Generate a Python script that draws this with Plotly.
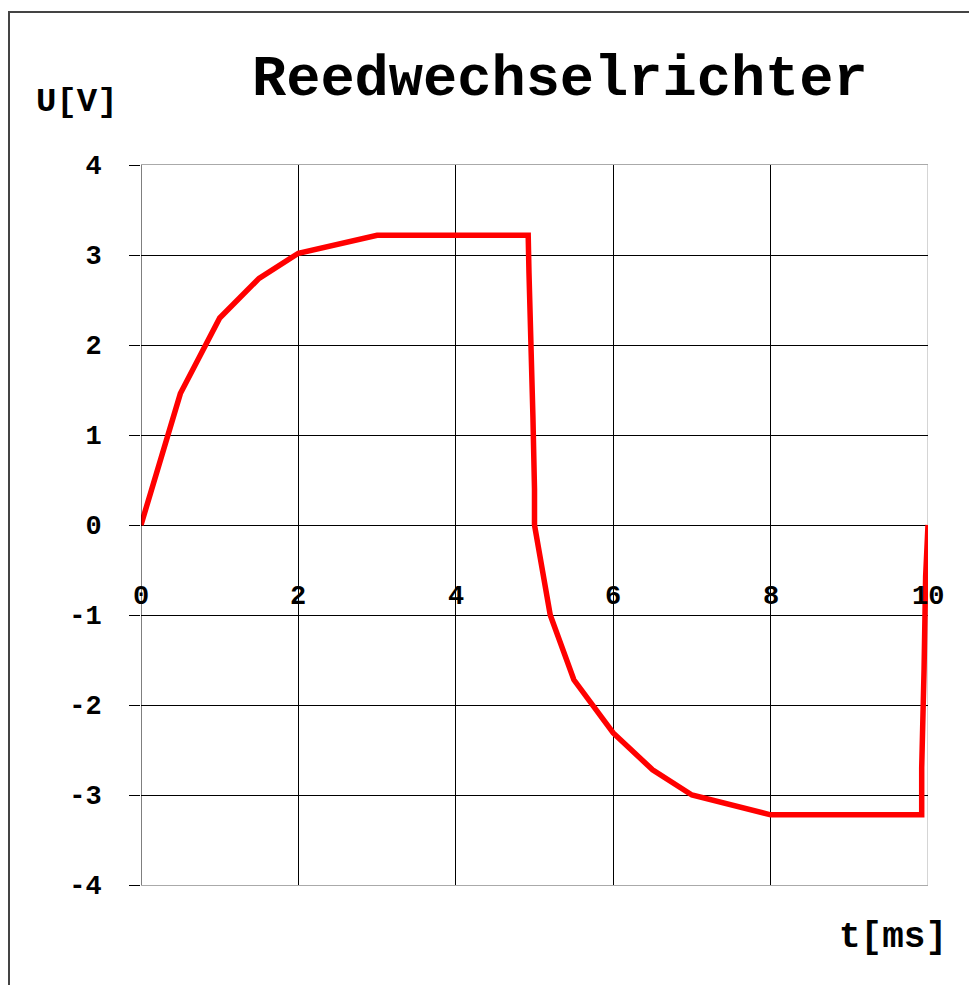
import plotly.graph_objects as go

# Data
t_ms = [0.0, 0.25, 0.5, 0.75, 1.0, 1.5, 2.0, 3.0, 4.92, 4.93, 4.96, 4.98, 5.0, 5.0,
        5.2, 5.5, 6.0, 6.5, 7.0, 8.0, 9.92, 9.92, 9.95, 9.97, 10.0]
u_v = [0.0, 0.74, 1.46, 1.88, 2.3, 2.74, 3.02, 3.22, 3.22, 2.8, 2.02, 1.2, 0.4, 0.0,
       -1.0, -1.72, -2.31, -2.72, -3.0, -3.22, -3.22, -2.7, -1.6, -0.57, 0.0]

x_ticks = [0, 2, 4, 6, 8, 10]
y_ticks = [-4, -3, -2, -1, 0, 1, 2, 3, 4]
title_text = "Reedwechselrichter"
x_title = "t[ms]"
y_title = "U[V]"

FONT = "Courier New, Courier, Liberation Mono, monospace"

fig = go.Figure()
fig.add_trace(go.Scatter(x=t_ms, y=u_v, mode="lines",
                         line=dict(color="#ff0000", width=5.5),
                         showlegend=False, hoverinfo="skip"))

OFF = 8  # page body margin
W, H = 977 - OFF, 985 - OFF
L, T = 141 - OFF, 165 - OFF
R = W - (928 - OFF)
B = H - (885 - OFF)
pw, ph = W - L - R, H - T - B

def px_x(px):
    return (px - OFF - L) / pw

def px_y(py):
    return (H - B - (py - OFF)) / ph

fig.update_layout(
    width=W, height=H,
    margin=dict(l=L, r=R, t=T, b=B, pad=0),
    paper_bgcolor="white", plot_bgcolor="white",
    xaxis=dict(range=[0, 10], tickvals=x_ticks, showticklabels=False,
               showgrid=True, gridcolor="black", gridwidth=1,
               zeroline=False, showline=True, linecolor="#aaaaaa",
               linewidth=1, mirror=True, fixedrange=True),
    yaxis=dict(range=[-4, 4], tickvals=y_ticks,
               ticktext=[("-" + str(abs(v))) if v < 0 else str(v) for v in y_ticks],
               showgrid=True, gridcolor="black", gridwidth=1,
               zeroline=True, zerolinecolor="black", zerolinewidth=1,
               showline=False, ticks="outside", ticklen=11,
               tickcolor="black", ticklabelstandoff=22,
               tickfont=dict(family=FONT, size=27, color="black",
                             weight="bold"),
               fixedrange=True),
)

# black left axis line, gray right border
fig.add_shape(type="line", xref="x", yref="y", x0=0, x1=0, y0=-4, y1=4,
              line=dict(color="black", width=1), layer="above")
fig.add_shape(type="line", xref="x", yref="y", x0=10, x1=10, y0=-4, y1=4,
              line=dict(color="#aaaaaa", width=1), layer="below")

# x tick labels sit just below the zero line
for v in x_ticks:
    fig.add_annotation(x=v, y=-0.8, xref="x", yref="y", text=str(v),
                       showarrow=False, xanchor="center", yanchor="middle",
                       font=dict(family=FONT, size=27, color="black",
                                 weight="bold"))

# title and axis titles
fig.add_annotation(x=px_x(560), y=px_y(80), xref="paper", yref="paper",
                   text=title_text, showarrow=False,
                   xanchor="center", yanchor="middle",
                   font=dict(family=FONT, size=57, color="black",
                             weight="bold"))
fig.add_annotation(x=px_x(77), y=px_y(102), xref="paper", yref="paper",
                   text=y_title, showarrow=False,
                   xanchor="center", yanchor="middle",
                   font=dict(family=FONT, size=34, color="black",
                             weight="bold"))
fig.add_annotation(x=px_x(893), y=px_y(937), xref="paper", yref="paper",
                   text=x_title, showarrow=False,
                   xanchor="center", yanchor="middle",
                   font=dict(family=FONT, size=36, color="black",
                             weight="bold"))

# outer frame (partly cut off at right and bottom)
fig.add_shape(type="rect", xref="paper", yref="paper",
              x0=px_x(9), x1=px_x(1010), y0=px_y(1010), y1=px_y(12),
              line=dict(color="#444444", width=2), fillcolor="rgba(0,0,0,0)")

fig.write_html("out.html")
